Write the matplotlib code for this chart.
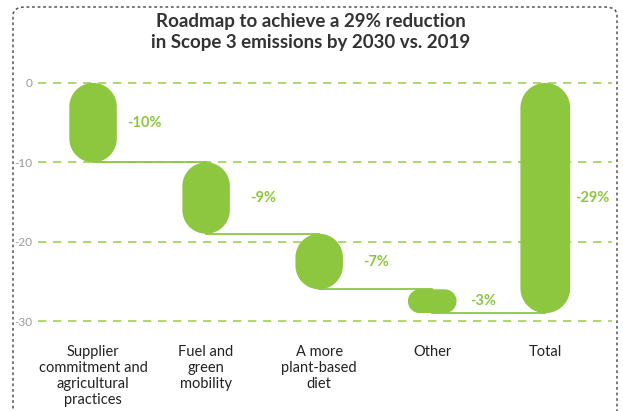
import numpy as np
import matplotlib
matplotlib.use("Agg")
import matplotlib.pyplot as plt
from matplotlib.patches import Polygon, FancyBboxPatch

categories = ["Supplier\ncommitment and\nagricultural\npractices", "Fuel and\ngreen\nmobility",
              "A more\nplant-based\ndiet", "Other", "Total"]
changes = [-10, -9, -7, -3, -29]
value_labels = ["-10%", "-9%", "-7%", "-3%", "-29%"]
yticks = [0, -10, -20, -30]

GREEN = "#8DC63F"
GRID = "#9FD15A"

plt.rcParams['font.family'] = ['Lato', 'DejaVu Sans']

fig = plt.figure(figsize=(6.23, 4.11), dpi=100)
W, H = 623, 411
ax = fig.add_axes([38 / W, 1 - 325 / H, (612 - 38) / W, 246 / H])
ax.set_xlim(-0.487, 4.59)
ax.set_ylim(-30.5, 0.5)
for s in ax.spines.values():
    s.set_visible(False)
ax.set_xticks([])
ax.set_yticks(yticks)
ax.set_yticklabels([str(t) for t in yticks], fontsize=8.5, color="#999999")
ax.tick_params(axis='y', length=0, pad=4)
for t in yticks:
    ax.axhline(t, color=GRID, lw=1.2, ls=(0, (5, 4)), zorder=0)

n = len(changes)
starts, ends = [], []
cum = 0
for i, c in enumerate(changes):
    if i < n - 1:
        starts.append(cum)
        cum += c
        ends.append(cum)
    else:
        starts.append(0)
        ends.append(c)

xs = np.arange(n)
widths = [0.42, 0.42, 0.42, 0.43, 0.44]

def pill(x, y0, y1, w):
    tr = ax.transData
    (px0, py0) = tr.transform((x - w / 2, min(y0, y1)))
    (px1, py1) = tr.transform((x + w / 2, max(y0, y1)))
    wpx, hpx = px1 - px0, py1 - py0
    r = min(wpx, hpx) / 2
    pts = []
    corners = [(px1 - r, py1 - r, 0, 90), (px0 + r, py1 - r, 90, 180),
               (px0 + r, py0 + r, 180, 270), (px1 - r, py0 + r, 270, 360)]
    for cx, cy, a0, a1 in corners:
        a = np.radians(np.linspace(a0, a1, 30))
        pts.extend(zip(cx + r * np.cos(a), cy + r * np.sin(a)))
    pts = np.array(pts)
    data = tr.inverted().transform(pts)
    return Polygon(data, closed=True, facecolor=GREEN, edgecolor="none", zorder=3)

label_dx = [0.45, 0.5, 0.5, 0.45, 0.42]
for i in range(n):
    ax.add_patch(pill(xs[i], starts[i], ends[i], widths[i]))
    if i < n - 1:
        ax.plot([xs[i], xs[i + 1]], [ends[i], ends[i]], color=GREEN, lw=1.3, zorder=2)
    ax.text(xs[i] + label_dx[i], (starts[i] + ends[i]) / 2, value_labels[i], color=GREEN,
            fontsize=10.5, fontweight='bold', ha='center', va='center')
    ax.text(xs[i], -33.0, categories[i], ha='center', va='top', fontsize=10.5,
            color="#222222", linespacing=1.2)

fig.text(311 / W, 1 - 32 / H, "Roadmap to achieve a 29% reduction\nin Scope 3 emissions by 2030 vs. 2019",
         ha='center', va='center', fontsize=13.5, fontweight='bold', color="#333333", linespacing=1.25)

border = FancyBboxPatch((13 / W, -0.1), (617 - 13) / W, (1 - 7 / H) + 0.1,
                        boxstyle="round,pad=0,rounding_size=0.02", transform=fig.transFigure,
                        facecolor="none", edgecolor="#444444", lw=1.0, ls=(0, (2, 2)))
fig.patches.append(border)

fig.savefig("out.png", dpi=100)
